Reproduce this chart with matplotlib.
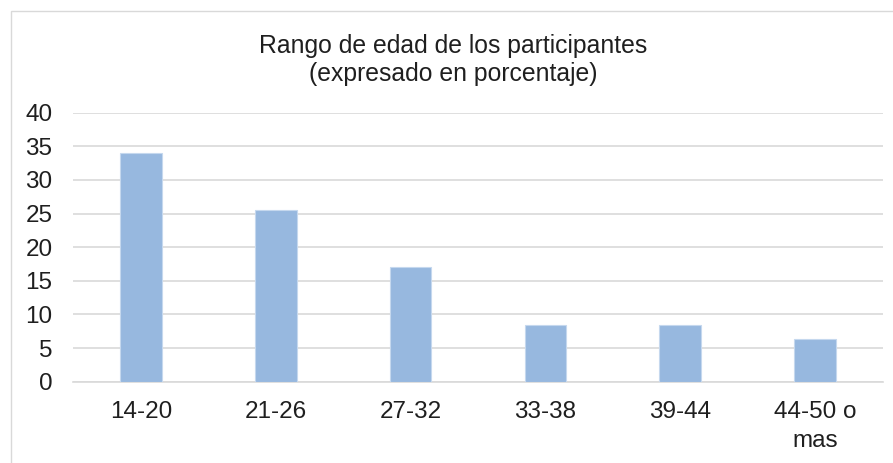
import matplotlib
matplotlib.use("Agg")
import matplotlib.pyplot as plt
from matplotlib.patches import Rectangle

plt.rcParams['font.family'] = ['Liberation Sans', 'DejaVu Sans']

categories = ["14-20", "21-26", "27-32", "33-38", "39-44", "44-50 o\nmas"]
values = [34, 25.5, 17, 8.5, 8.5, 6.4]
yticks = [0, 5, 10, 15, 20, 25, 30, 35, 40]
title = "Rango de edad de los participantes\n(expresado en porcentaje)"

W, H = 893, 463
fig = plt.figure(figsize=(W / 100, H / 100), dpi=100)
fig.patch.set_facecolor("white")

# chart frame
fig.patches.append(Rectangle((11 / W, -0.1), 1.2, 1 - 11 / H + 0.1, transform=fig.transFigure,
                             fill=False, edgecolor="#d9d9d9", linewidth=1.0))

ax = fig.add_axes([73.3 / W, 1 - 381.7 / H, (882.7 - 73.3) / W, (381.7 - 112.7) / H])
x = list(range(len(categories)))
ax.bar(x, values, width=0.31, color="#97B8DF", edgecolor="#c5d8ee", linewidth=0.8, zorder=3)
ax.set_xlim(-0.5, len(categories) - 0.5)
ax.set_ylim(0, 40)
ax.set_yticks(yticks)
ax.set_xticks(x)
ax.set_xticklabels(categories, fontsize=17.5, color="#1f1f1f", linespacing=1.4)
ax.tick_params(axis="y", labelsize=17.5, labelcolor="#1f1f1f", length=0, pad=15)
ax.tick_params(axis="x", length=0, pad=14)
ax.grid(axis="y", color="#d9d9d9", linewidth=1.2, zorder=0)
for s in ["top", "right", "left"]:
    ax.spines[s].set_visible(False)
ax.spines["bottom"].set_color("#d9d9d9")
ax.spines["bottom"].set_linewidth(1.2)

fig.text(453 / W, 1 - 60 / H, title, ha="center", va="center", fontsize=17.8,
         color="#1f1f1f", linespacing=1.2)

fig.savefig("out.png", dpi=100)
